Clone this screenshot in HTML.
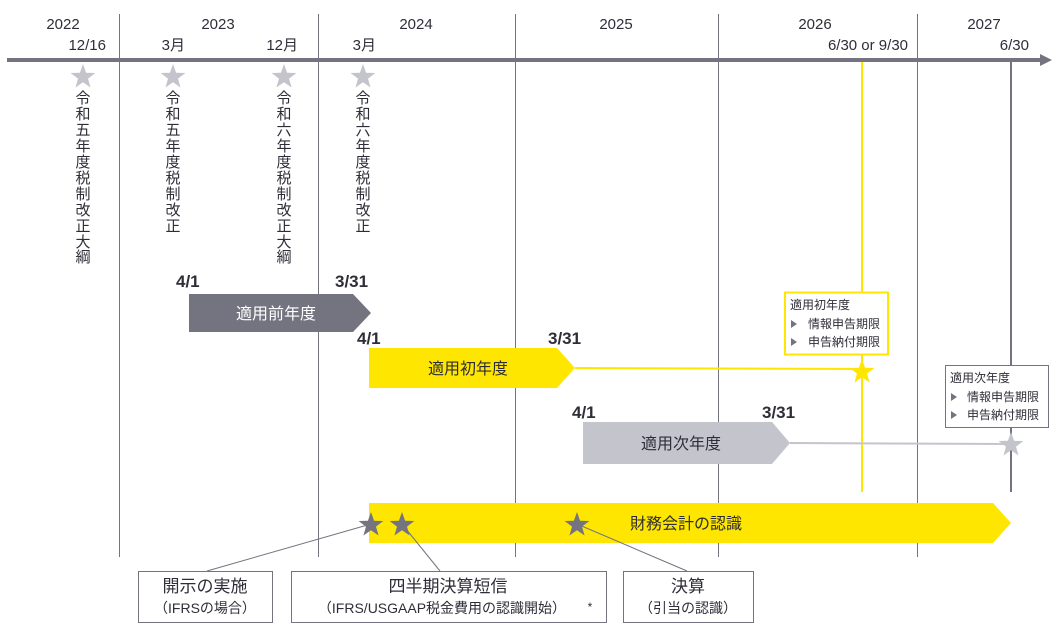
<!DOCTYPE html>
<html><head><meta charset="utf-8"><style>
html,body{margin:0;padding:0;background:#fff;}
svg{display:block;font-family:"Liberation Sans","Noto Sans CJK JP",sans-serif;}
</style></head><body>
<svg width="1058" height="630" viewBox="0 0 1058 630" xmlns="http://www.w3.org/2000/svg">
<defs>
<path id="st" d="M0,-13 L3.1,-4.2 L12.4,-4 L5,1.6 L7.6,10.5 L0,5.2 L-7.6,10.5 L-5,1.6 L-12.4,-4 L-3.1,-4.2 Z"/>
</defs>
<g stroke="#747480" stroke-width="1">
<line x1="119.5" y1="14" x2="119.5" y2="557"/>
<line x1="318.5" y1="14" x2="318.5" y2="557"/>
<line x1="515.5" y1="14" x2="515.5" y2="557"/>
<line x1="718.5" y1="14" x2="718.5" y2="557"/>
<line x1="917.5" y1="14" x2="917.5" y2="557"/>
</g>
<line x1="862" y1="62" x2="862" y2="492" stroke="#ffe600" stroke-width="2"/>
<line x1="1011" y1="62" x2="1011" y2="492" stroke="#747480" stroke-width="2"/>
<rect x="7" y="58" width="1035" height="4" fill="#747480"/>
<polygon points="1040,54 1052,60 1040,66" fill="#747480"/>
<g font-size="15" fill="#2e2e38" text-anchor="middle">
<text x="63" y="29">2022</text>
<text x="218" y="29">2023</text>
<text x="416" y="29">2024</text>
<text x="616" y="29">2025</text>
<text x="815" y="29">2026</text>
<text x="984" y="29">2027</text>
</g>
<g font-size="15" fill="#2e2e38" text-anchor="end">
<text x="106" y="50">12/16</text>
<text x="185" y="50">3月</text>
<text x="298" y="50">12月</text>
<text x="376" y="50">3月</text>
<text x="908" y="50">6/30 or 9/30</text>
<text x="1029" y="50">6/30</text>
</g>
<g fill="#c4c4cc">
<use href="#st" x="83" y="77"/>
<use href="#st" x="173" y="77"/>
<use href="#st" x="284" y="77"/>
<use href="#st" x="363" y="77"/>
</g>
<g font-size="15" fill="#2e2e38" text-anchor="middle">
<text x="83" y="103">令</text><text x="83" y="119">和</text><text x="83" y="135">五</text><text x="83" y="151">年</text><text x="83" y="167">度</text><text x="83" y="183">税</text><text x="83" y="199">制</text><text x="83" y="215">改</text><text x="83" y="231">正</text><text x="83" y="247">大</text><text x="83" y="262">綱</text>
<text x="173" y="103">令</text><text x="173" y="119">和</text><text x="173" y="135">五</text><text x="173" y="151">年</text><text x="173" y="167">度</text><text x="173" y="183">税</text><text x="173" y="199">制</text><text x="173" y="215">改</text><text x="173" y="231">正</text>
<text x="284" y="103">令</text><text x="284" y="119">和</text><text x="284" y="135">六</text><text x="284" y="151">年</text><text x="284" y="167">度</text><text x="284" y="183">税</text><text x="284" y="199">制</text><text x="284" y="215">改</text><text x="284" y="231">正</text><text x="284" y="247">大</text><text x="284" y="262">綱</text>
<text x="363" y="103">令</text><text x="363" y="119">和</text><text x="363" y="135">六</text><text x="363" y="151">年</text><text x="363" y="167">度</text><text x="363" y="183">税</text><text x="363" y="199">制</text><text x="363" y="215">改</text><text x="363" y="231">正</text>
</g>
<g font-size="17" font-weight="bold" fill="#2e2e38">
<text x="176" y="287">4/1</text>
<text x="335" y="287">3/31</text>
<text x="357" y="344">4/1</text>
<text x="548" y="344">3/31</text>
<text x="572" y="418">4/1</text>
<text x="762" y="418">3/31</text>
</g>
<polygon points="189,294 353,294 371,313 353,332 189,332" fill="#747480"/>
<text x="276" y="319" font-size="16" fill="#fff" text-anchor="middle">適用前年度</text>
<polygon points="369,348 557,348 575,368 557,388 369,388" fill="#ffe600"/>
<text x="468" y="374" font-size="16" fill="#2e2e38" text-anchor="middle">適用初年度</text>
<line x1="575" y1="368" x2="862" y2="369" stroke="#ffe600" stroke-width="2"/>
<use href="#st" x="862" y="372" fill="#ffe600"/>
<polygon points="583,422 772,422 790,443 772,464 583,464" fill="#c4c4cd"/>
<text x="681" y="449" font-size="16" fill="#2e2e38" text-anchor="middle">適用次年度</text>
<line x1="790" y1="443" x2="1011" y2="444" stroke="#c4c4cd" stroke-width="2"/>
<use href="#st" x="1011" y="445" fill="#c4c4cd"/>
<polygon points="369,503 993,503 1011,523 993,543 369,543" fill="#ffe600"/>
<text x="686" y="529" font-size="16" fill="#2e2e38" text-anchor="middle">財務会計の認識</text>
<rect x="785" y="292.5" width="103" height="62" fill="#fff" stroke="#ffe600" stroke-width="2"/>
<g font-size="12" fill="#2e2e38">
<text x="790" y="309">適用初年度</text>
<text x="808" y="328">情報申告期限</text>
<text x="808" y="346">申告納付期限</text>
</g>
<g fill="#747480"><polygon points="791,320 791,328 797,324"/><polygon points="791,338 791,346 797,342"/></g>
<rect x="945.5" y="365.5" width="103" height="62" fill="#fff" stroke="#747480" stroke-width="1"/>
<g font-size="12" fill="#2e2e38">
<text x="950" y="382">適用次年度</text>
<text x="967" y="401">情報申告期限</text>
<text x="967" y="419">申告納付期限</text>
</g>
<g fill="#747480"><polygon points="951,393 951,401 957,397"/><polygon points="951,411 951,419 957,415"/></g>
<g stroke="#747480" stroke-width="1">
<line x1="371" y1="524" x2="207" y2="571"/>
<line x1="402" y1="524" x2="440" y2="571"/>
<line x1="577" y1="524" x2="687" y2="571"/>
</g>
<g fill="#747480">
<use href="#st" x="371" y="525"/>
<use href="#st" x="402" y="525"/>
<use href="#st" x="577" y="525"/>
</g>
<g fill="#fff" stroke="#747480" stroke-width="1">
<rect x="138.5" y="571.5" width="134" height="51"/>
<rect x="291.5" y="571.5" width="315" height="51"/>
<rect x="623.5" y="571.5" width="130" height="51"/>
</g>
<g fill="#2e2e38" text-anchor="middle">
<text x="205" y="592" font-size="17">開示の実施</text>
<text x="205" y="613" font-size="14">（IFRSの場合）</text>
<text x="448" y="592" font-size="17">四半期決算短信</text>
<text x="442" y="613" font-size="14">（IFRS/USGAAP税金費用の認識開始）</text>
<text x="590" y="611" font-size="12">*</text>
<text x="688" y="592" font-size="17">決算</text>
<text x="688" y="613" font-size="14">（引当の認識）</text>
</g>
</svg>
</body></html>
